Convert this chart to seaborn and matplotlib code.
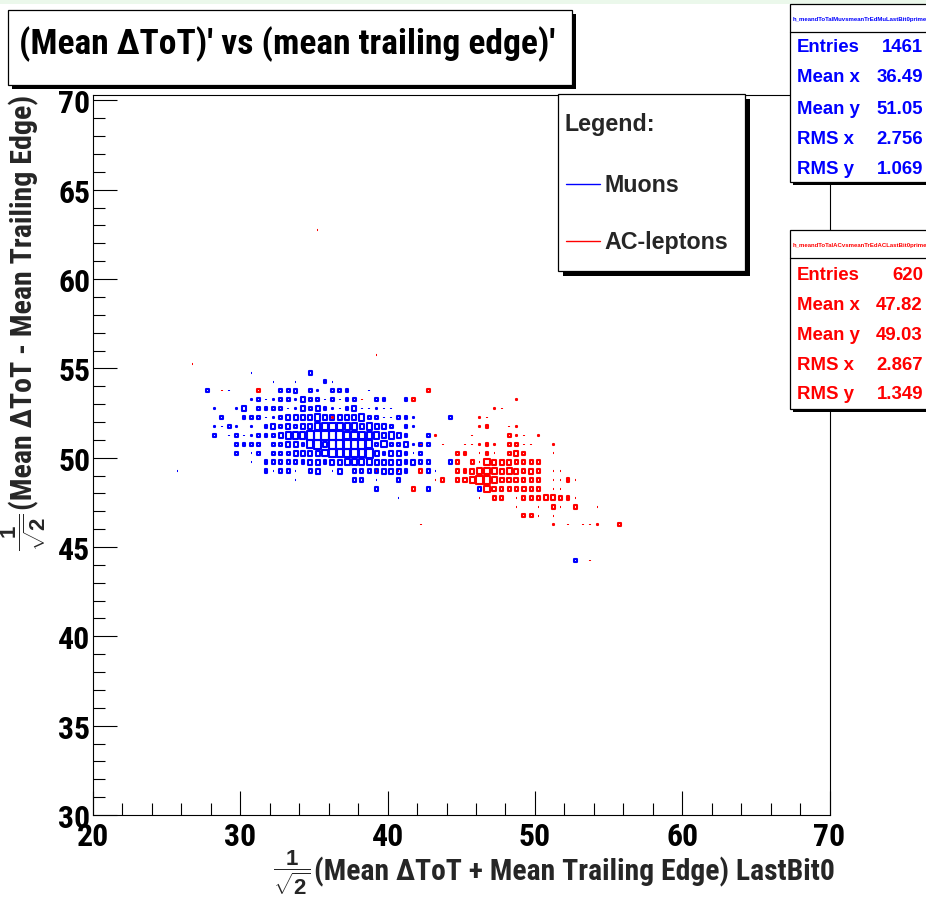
import numpy as np
import pandas as pd
import matplotlib
matplotlib.use("Agg")
import matplotlib.pyplot as plt
import seaborn as sns
from matplotlib.path import Path
from matplotlib.patches import Rectangle
from matplotlib.lines import Line2D
from matplotlib import font_manager
from matplotlib.font_manager import FontProperties

# ---------------- data (bin centres, 0.5 wide bins; n = bin content) ----------------
BIN = 0.5
NMAX = 18.5

blue_rows_y = [56.75, 55.25, 54.75, 54.25, 53.75, 53.25, 52.75, 52.25, 51.75, 51.25,
               50.75, 50.25, 49.75, 49.25, 48.75, 48.25, 47.75, 44.25]
blue_rows_x = [
    [29.25],
    [35.75],
    [30.75, 34.75, 35.75, 36.75],
    [31.75, 32.25, 33.25, 33.75, 35.75, 36.25],
    [27.75, 29.25, 32.75, 33.25, 33.75, 34.75, 35.25, 36.25, 36.75, 37.25, 38.75],
    [30.75, 31.25, 31.75, 32.25, 32.75, 33.25, 33.75, 34.25, 34.75, 35.25, 35.75, 36.25, 36.75,
     37.25, 37.75, 39.25, 39.75, 41.25],
    [28.25, 29.75, 30.25, 31.25, 31.75, 32.25, 32.75, 33.25, 33.75, 34.25, 34.75, 35.25, 35.75,
     36.25, 36.75, 37.25, 37.75, 38.25, 38.75, 39.25, 39.75, 40.25],
    [28.75, 30.25, 30.75, 31.25, 31.75, 32.25, 32.75, 33.25, 33.75, 34.25, 34.75, 35.25, 35.75,
     36.25, 36.75, 37.25, 37.75, 38.25, 38.75, 39.25, 39.75, 40.25, 40.75, 41.25, 41.75, 44.25],
    [28.25, 28.75, 29.25, 29.75, 30.75, 31.75, 32.25, 32.75, 33.25, 33.75, 34.25, 34.75, 35.25,
     35.75, 36.25, 36.75, 37.25, 37.75, 38.25, 38.75, 39.25, 39.75, 40.25, 41.25, 41.75],
    [28.25, 29.25, 29.75, 30.25, 30.75, 31.25, 31.75, 32.25, 32.75, 33.25, 33.75, 34.25, 34.75,
     35.25, 35.75, 36.25, 36.75, 37.25, 37.75, 38.25, 38.75, 39.25, 39.75, 40.25, 40.75, 41.25, 42.75],
    [29.75, 30.25, 30.75, 31.25, 32.25, 32.75, 33.25, 33.75, 34.25, 34.75, 35.25, 35.75, 36.25,
     36.75, 37.25, 37.75, 38.25, 38.75, 39.25, 39.75, 40.25, 40.75, 41.25, 41.75, 42.25, 42.75],
    [28.75, 29.25, 29.75, 30.25, 30.75, 31.25, 31.75, 32.25, 32.75, 33.25, 33.75, 34.25, 34.75,
     35.25, 35.75, 36.25, 36.75, 37.25, 37.75, 38.25, 38.75, 39.25, 39.75, 40.25, 40.75, 41.25,
     41.75, 42.25, 42.75, 43.75, 45.25],
    [28.75, 30.75, 31.75, 32.25, 32.75, 33.25, 33.75, 34.25, 34.75, 35.25, 35.75, 36.25, 36.75,
     37.25, 37.75, 38.25, 38.75, 39.25, 39.75, 40.25, 40.75, 41.25, 41.75, 42.25, 42.75, 43.75, 44.25],
    [25.75, 31.75, 32.25, 32.75, 33.25, 33.75, 34.25, 34.75, 35.25, 36.25, 36.75, 37.25, 37.75,
     38.25, 38.75, 39.25, 39.75, 40.25, 40.75, 41.25, 42.75, 43.25],
    [33.75, 34.75, 37.25, 37.75, 38.25, 39.25, 39.75, 40.75, 41.25, 42.25],
    [38.25, 39.25, 42.75, 43.75, 46.25],
    [40.75],
    [52.75],
]
blue_rows_n = [
    [1],
    [1],
    [1, 7, 1, 1],
    [1, 1, 1, 1, 7, 1],
    [7, 1, 7, 7, 8, 7, 1, 7, 7, 7, 1],
    [1, 7, 1, 1, 7, 7, 1, 10, 7, 7, 1, 7, 1, 7, 7, 7, 7, 7],
    [1, 1, 10, 7, 7, 7, 7, 1, 1, 10, 7, 10, 7, 1, 1, 7, 10, 1, 1, 1, 1, 1],
    [7, 7, 7, 7, 1, 1, 7, 10, 10, 10, 10, 13, 10, 10, 10, 10, 10, 13, 7, 7, 1, 1, 7, 7, 1, 7],
    [1, 1, 7, 1, 1, 7, 10, 7, 10, 7, 10, 10, 13, 13, 16, 16, 13, 13, 10, 13, 10, 10, 7, 7, 1],
    [7, 1, 7, 1, 1, 7, 7, 7, 10, 13, 13, 13, 18, 18, 18, 18, 18, 16, 16, 16, 13, 13, 10, 13, 10, 7, 7],
    [7, 7, 7, 7, 7, 7, 10, 10, 7, 16, 18, 10, 18, 18, 18, 18, 18, 16, 7, 13, 7, 7, 10, 1, 7, 7],
    [1, 1, 7, 1, 1, 7, 1, 7, 7, 7, 10, 10, 10, 10, 13, 16, 16, 16, 16, 16, 18, 10, 7, 10, 10, 7,
     1, 7, 1, 1, 1],
    [1, 1, 7, 7, 7, 7, 7, 7, 10, 10, 7, 10, 10, 13, 13, 13, 13, 10, 10, 10, 10, 7, 10, 7, 7, 1, 7],
    [1, 7, 1, 7, 7, 1, 1, 7, 10, 1, 10, 1, 7, 7, 7, 7, 10, 10, 10, 7, 7, 1],
    [1, 1, 1, 7, 7, 1, 1, 7, 1, 1],
    [1, 7, 7, 1, 7],
    [1],
    [7],
]

red_rows_y = [62.75, 55.75, 55.25, 54.75, 53.75, 53.25, 52.75, 52.25, 51.75, 51.25, 50.75,
              50.25, 49.75, 49.25, 48.75, 48.25, 47.75, 47.25, 46.75, 46.25, 44.25]
red_rows_x = [
    [35.25],
    [39.25],
    [26.75, 45.25],
    [43.75],
    [28.75, 31.25, 42.75],
    [38.25, 41.75, 48.75],
    [47.25, 47.75],
    [36.25, 46.25, 46.75],
    [46.25, 46.75, 48.25, 48.75],
    [43.25, 45.75, 48.25, 48.75, 49.25, 50.25],
    [42.25, 43.75, 45.25, 45.75, 46.25, 46.75, 47.25, 48.25, 48.75, 49.25, 49.75, 51.25],
    [44.75, 45.25, 45.75, 46.25, 46.75, 47.25, 47.75, 48.25, 48.75, 49.25, 49.75, 51.25],
    [42.75, 44.75, 45.25, 45.75, 46.25, 46.75, 47.25, 47.75, 48.25, 48.75, 49.25, 49.75, 50.25,
     50.75, 52.25],
    [39.25, 40.75, 42.25, 44.25, 44.75, 45.25, 45.75, 46.25, 46.75, 47.25, 47.75, 48.25, 48.75,
     49.25, 49.75, 50.25, 51.25, 51.75],
    [42.75, 43.25, 43.75, 44.25, 44.75, 45.25, 45.75, 46.25, 46.75, 47.25, 47.75, 48.25, 48.75,
     49.25, 49.75, 50.25, 50.75, 51.25, 51.75, 52.25, 52.75, 53.25],
    [41.75, 45.25, 45.75, 46.75, 47.25, 47.75, 48.25, 48.75, 49.25, 49.75, 50.25, 50.75, 51.25,
     51.75, 52.25, 53.25, 53.75],
    [38.25, 45.25, 45.75, 46.25, 46.75, 47.25, 47.75, 48.25, 48.75, 49.25, 49.75, 50.25, 50.75,
     51.25, 51.75, 52.25, 52.75, 53.75],
    [47.75, 48.75, 49.25, 49.75, 50.25, 50.75, 51.25, 51.75, 52.25, 52.75, 53.75, 54.25, 54.75],
    [49.25, 49.75, 50.25, 51.25],
    [42.25, 51.25, 52.25, 53.25, 53.75, 54.25, 55.75],
    [53.75],
]
red_rows_n = [
    [1],
    [1],
    [1, 1],
    [1],
    [1, 7, 7],
    [1, 7, 1],
    [1, 1],
    [1, 1, 1],
    [1, 7, 1, 1],
    [1, 1, 7, 1, 1, 1],
    [1, 1, 1, 1, 1, 7, 1, 7, 7, 1, 1, 1],
    [7, 7, 1, 1, 7, 1, 1, 7, 10, 7, 1, 1],
    [1, 7, 1, 7, 1, 13, 10, 10, 10, 7, 7, 7, 7, 1, 1],
    [1, 1, 7, 1, 7, 7, 10, 13, 13, 13, 10, 13, 10, 7, 10, 7, 1, 1],
    [1, 1, 7, 1, 7, 10, 13, 16, 16, 13, 10, 10, 10, 7, 7, 7, 1, 1, 1, 7, 1, 1],
    [7, 1, 1, 13, 10, 7, 7, 7, 10, 7, 7, 1, 1, 1, 1, 1, 1],
    [1, 1, 1, 1, 1, 7, 7, 1, 1, 7, 7, 7, 10, 10, 7, 7, 1, 1],
    [1, 1, 1, 1, 1, 1, 7, 1, 1, 7, 1, 1, 1],
    [7, 7, 1, 1],
    [1, 1, 1, 1, 1, 1, 7],
    [1],
]

title_text = "(Mean \u0394ToT)' vs (mean trailing edge)'"
xlabel_text = "(Mean \u0394ToT + Mean Trailing Edge) LastBit0"
ylabel_text = "(Mean \u0394ToT - Mean Trailing Edge)"
legend_title = "Legend:"
series_names = ["Muons", "AC-leptons"]
series_colors = ["#0000ff", "#ff0000"]
stat_names = ["h_meandToTalMuvsmeanTrEdMuLastBit0prime",
              "h_meandToTalACvsmeanTrEdACLastBit0prime"]
stat_labels = ["Entries", "Mean x", "Mean y", "RMS x", "RMS y"]
stat_values_mu = ["1461", "36.49", "51.05", "2.756", "1.069"]
stat_values_ac = ["620", "47.82", "49.03", "2.867", "1.349"]
x_major = [20, 30, 40, 50, 60, 70]
y_major = [30, 35, 40, 45, 50, 55, 60, 65, 70]


def to_frame(rows_y, rows_x, rows_n):
    recs = []
    for yv, xs, ns in zip(rows_y, rows_x, rows_n):
        assert len(xs) == len(ns)
        for xv, nv in zip(xs, ns):
            recs.append((xv, yv, nv))
    df = pd.DataFrame(recs, columns=["x", "y", "n"])
    df["frac2"] = (df["n"] / NMAX) ** 2
    return df


blue_df = to_frame(blue_rows_y, blue_rows_x, blue_rows_n)
red_df = to_frame(red_rows_y, red_rows_x, red_rows_n)

# ---------------- styling ----------------
sns.set_theme(style="white")
plt.rcParams['font.family'] = ['Liberation Sans', 'DejaVu Sans']
plt.rcParams['mathtext.fontset'] = 'custom'
plt.rcParams['mathtext.rm'] = 'Liberation Sans:bold'
plt.rcParams['mathtext.it'] = 'Liberation Sans:bold'
plt.rcParams['mathtext.bf'] = 'Liberation Sans:bold'


def _weight_num(w):
    if isinstance(w, (int, float)):
        return w
    return {'bold': 700, 'semibold': 600, 'demibold': 600, 'heavy': 800,
            'black': 900, 'extra bold': 800}.get(str(w).lower(), 400)


def _is_condensed(st):
    if isinstance(st, (int, float)):
        return st < 500
    return str(st).lower() in ('condensed', 'semi-condensed', 'extra-condensed',
                               'ultra-condensed')


def find_condensed_bold():
    order = ['Liberation Sans Narrow', 'Arial Narrow', 'Nimbus Sans Narrow',
             'Roboto Condensed', 'Roboto', 'Noto Sans Condensed', 'Noto Sans',
             'Open Sans Condensed', 'Open Sans', 'DejaVu Sans Condensed', 'DejaVu Sans']
    flist = font_manager.fontManager.ttflist
    for nm in order:
        for f in flist:
            if f.name != nm:
                continue
            if _weight_num(f.weight) < 600 or 'italic' in str(f.style).lower() \
                    or 'oblique' in str(f.style).lower():
                continue
            if _is_condensed(f.stretch) or 'Narrow' in nm or 'Condensed' in nm:
                return f.fname
    return None


COND_FILE = find_condensed_bold()


def narrow_fp(size):
    if COND_FILE:
        return FontProperties(fname=COND_FILE, size=size)
    return FontProperties(family=['Liberation Sans', 'DejaVu Sans'], weight='bold', size=size)


def regular_fp(size):
    return FontProperties(family=['Liberation Sans', 'DejaVu Sans'], weight='bold', size=size)


W, H, DPI = 926, 904, 100
fig = plt.figure(figsize=(W / DPI, H / DPI), dpi=DPI)
fig.patch.set_facecolor('white')
renderer = fig.canvas.get_renderer()


def fit(text, maker, target_px, base=20.0):
    w, _, _ = renderer.get_text_width_height_descent(text, maker(base), ismath=False)
    return maker(base * target_px / w)


AX_L, AX_R, AX_T, AX_B = 93, 829.5, 95.5, 816
XLIM = (20, 70)
YLIM = (30, 70.33)
ax = fig.add_axes([AX_L / W, 1 - AX_B / H, (AX_R - AX_L) / W, (AX_B - AX_T) / H])
ax.set_facecolor('white')


def fx(px):
    return px / W


def fy(py):
    return 1 - py / H


# cell size in pixels / points
cell_w_px = BIN * (AX_R - AX_L) / (XLIM[1] - XLIM[0])
cell_h_px = BIN * (AX_B - AX_T) / (YLIM[1] - YLIM[0])
ratio = cell_w_px / cell_h_px
cell_h_pt = cell_h_px * 72.0 / DPI
s_full = cell_h_pt ** 2

box_marker = Path([(-ratio / 2, -0.5), (ratio / 2, -0.5), (ratio / 2, 0.5),
                   (-ratio / 2, 0.5), (-ratio / 2, -0.5)],
                  [Path.MOVETO, Path.LINETO, Path.LINETO, Path.LINETO, Path.CLOSEPOLY])

for df, col in [(blue_df, series_colors[0]), (red_df, series_colors[1])]:
    sns.scatterplot(data=df, x="x", y="y", size="frac2", sizes=(0, s_full),
                    size_norm=(0, 1), marker=box_marker, legend=False, ax=ax,
                    edgecolor=col, linewidth=1.5)
    coll = ax.collections[-1]
    coll.set_facecolor('none')
    coll.set_edgecolor(col)
    coll.set_linewidth(1.5)

ax.set_xlim(*XLIM)
ax.set_ylim(*YLIM)
ax.set_xlabel("")
ax.set_ylabel("")

tick_fp = fit("30", narrow_fp, 32)
ax.set_xticks(x_major, labels=[str(v) for v in x_major])
ax.set_yticks(y_major, labels=[str(v) for v in y_major])
for lab in ax.get_xticklabels() + ax.get_yticklabels():
    lab.set_fontproperties(tick_fp)
    lab.set_color('black')
ax.set_xticks(np.arange(20, 70.1, 2), minor=True)
ax.set_yticks(np.arange(30, 70.1, 1), minor=True)
ax.tick_params(which='both', direction='in', top=False, right=False,
               bottom=True, left=True, color='black', width=0.8)
ax.tick_params(which='major', length=17)
ax.tick_params(which='minor', length=8.5)
ax.tick_params(axis='x', which='major', pad=4)
ax.tick_params(axis='y', which='major', pad=2)
for sp in ax.spines.values():
    sp.set_visible(True)
    sp.set_color('black')
    sp.set_linewidth(0.8)
ax.grid(False)

# ---------------- decorations ----------------
fig.add_artist(Rectangle((0, fy(5)), 1, 5 / H, transform=fig.transFigure,
                         facecolor='#ebf8eb', edgecolor='none', zorder=0))


def pave(x0, y0, x1, y1, shadow=4, z=5):
    fig.add_artist(Rectangle((fx(x0 + shadow), fy(y1 + shadow)), (x1 - x0) / W, (y1 - y0) / H,
                             transform=fig.transFigure, facecolor='black',
                             edgecolor='none', zorder=z))
    fig.add_artist(Rectangle((fx(x0), fy(y1)), (x1 - x0) / W, (y1 - y0) / H,
                             transform=fig.transFigure, facecolor='white',
                             edgecolor='black', linewidth=0.9, zorder=z + 0.1))


# title
pave(8, 11, 572, 86, shadow=4)
fig.text(fx(287), fy(44), title_text, ha='center', va='center', zorder=7, color='black',
         fontproperties=fit(title_text, narrow_fp, 535))

# legend
pave(558, 95, 745, 272, shadow=5)
leg_fp = fit("AC-leptons", regular_fp, 124)
fig.text(fx(565), fy(125), legend_title, ha='left', va='center', zorder=7, fontproperties=leg_fp)
for i, (name, col) in enumerate(zip(series_names, series_colors)):
    yy = [185, 242][i]
    fig.add_artist(Line2D([fx(566), fx(600)], [fy(yy), fy(yy)], color=col, linewidth=1.0,
                          transform=fig.transFigure, zorder=7))
    fig.text(fx(604), fy(yy), name, ha='left', va='center', zorder=7, fontproperties=leg_fp)

# stat boxes
stat_fp = fit("Entries", regular_fp, 63)
for (top, bot, sep, rows, name, vals, col) in [
        (5, 183, 33, [48, 78, 109, 140, 170], stat_names[0], stat_values_mu, series_colors[0]),
        (231, 410, 259, [275, 305, 335, 365, 395], stat_names[1], stat_values_ac, series_colors[1])]:
    pave(790, top, 960, bot, shadow=3)
    fig.add_artist(Line2D([fx(790), fx(960)], [fy(sep), fy(sep)], color='black',
                          linewidth=0.9, transform=fig.transFigure, zorder=6))
    fig.text(fx(793), fy((top + sep) / 2 + 1), name, ha='left', va='center', zorder=7,
             color=col, fontproperties=regular_fp(4.3))
    for yy, lab, val in zip(rows, stat_labels, vals):
        fig.text(fx(797), fy(yy), lab, ha='left', va='center', color=col, zorder=7,
                 fontproperties=stat_fp)
        fig.text(fx(923), fy(yy), val, ha='right', va='center', color=col, zorder=7,
                 fontproperties=stat_fp)

# axis titles (ROOT style with 1/sqrt(2) prefix)
xt = fig.text(fx(835), fy(872), xlabel_text, ha='right', va='center', zorder=7,
              fontproperties=fit(xlabel_text, narrow_fp, 520))
yt = fig.text(fx(24), fy(95), ylabel_text, ha='center', va='top', rotation=90, zorder=7,
              fontproperties=fit(ylabel_text, narrow_fp, 415))
fig.canvas.draw()
bbx = xt.get_window_extent(renderer)
bby = yt.get_window_extent(renderer)
fig.text((bbx.x0 - 3) / W, fy(873), r'$\dfrac{1}{\sqrt{2}}$', ha='right', va='center',
         zorder=7, fontsize=16)
fig.text(fx(24), (bby.y0 - 3) / H, r'$\dfrac{1}{\sqrt{2}}$', ha='center', va='top',
         rotation=90, zorder=7, fontsize=16)

fig.savefig("out.png", dpi=DPI, facecolor='white')
